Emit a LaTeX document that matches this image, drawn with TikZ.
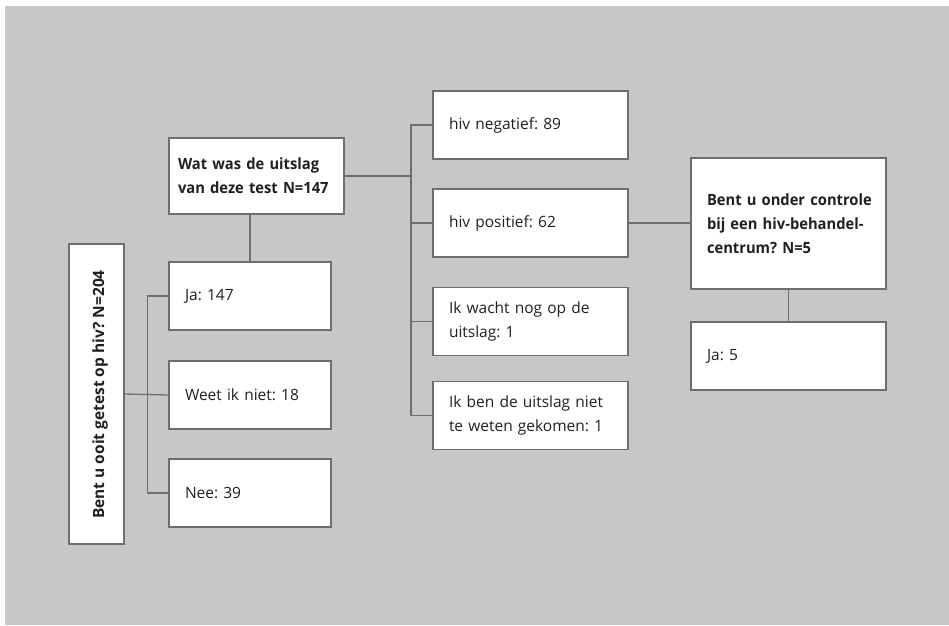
\documentclass[tikz,border=0pt]{standalone}
\usepackage{fontspec}
\setmainfont{Open Sans}
\newfontfamily\narrowfont[FakeStretch=0.95]{Open Sans}
\definecolor{bggray}{HTML}{C6C7C9}
\definecolor{linegray}{HTML}{6D6E71}
\definecolor{txt}{HTML}{231F20}
\begin{document}
\frenchspacing
\begin{tikzpicture}[x=1pt,y=-1pt,
  box/.style={draw=linegray, line width=1.4pt, fill=white, text=txt, align=left,
    inner xsep=16pt, inner ysep=0pt, text width=#1,
    font=\fontsize{15.5}{24}\selectfont},
  box/.default=163pt,
  boldtext/.style={font=\fontsize{15.5}{24}\selectfont\narrowfont\bfseries},
  conn/.style={draw=linegray, line width=1.3pt}]
\useasboundingbox (0,0) rectangle (949,625);
\fill[bggray] (5,6) rectangle (949,625);

% left rotated box
\node[draw=linegray, line width=1.4pt, fill=white, minimum width=55pt, minimum height=300pt, inner sep=0pt] (q1) at (96.5,394) {};
\node[rotate=90, anchor=base, text=txt, inner sep=0pt, font=\fontsize{15.5}{24}\selectfont\bfseries] (q1t) at (104,394.5) {Bent u ooit getest op hiv? N=204};

\node[box=130pt, minimum height=68pt] (ja) at (250,296) {Ja: 147};
\node[box=130pt, minimum height=68pt] (weet) at (250,395) {Weet ik niet: 18};
\node[box=130pt, minimum height=68pt] (nee) at (250,493) {Nee: 39};

\node[box=157pt, inner xsep=9pt, minimum height=76pt, boldtext] (wat) at (256.5,176) {\mbox{Wat was de uitslag}\\\mbox{van deze test N=147}};

\node[box, minimum height=68pt] (neg) at (530.5,125) {hiv negatief: 89};
\node[box, minimum height=68pt] (pos) at (530.5,223) {hiv positief: 62};
\node[box, minimum height=68pt] (wacht) at (530.5,321.5) {\mbox{Ik wacht nog op de}\\uitslag: 1};
\node[box, minimum height=68pt] (ikben) at (530.5,415.5) {\mbox{Ik ben de uitslag niet}\\\mbox{te weten gekomen: 1}};

\node[box, minimum height=131pt, boldtext] (ctrl) at (788.5,223.5) {\mbox{Bent u onder controle}\\\mbox{bij een hiv-behandel-}\\\mbox{centrum? N=5}};
\node[box, minimum height=68pt] (ja5) at (788.5,356) {Ja: 5};

% connectors
\coordinate (busA) at (147.5,296);
\coordinate (busB) at (411,125);
\draw[conn] (ja.west) -- (busA) |- (nee.west);
\draw[conn] (q1.east) -- (weet.west);
\draw[conn] (ja.north) -- (ja.north |- wat.south);
\draw[conn] (neg.west) -- (busB) |- (ikben.west);
\draw[conn] (wat.east) -- (wat.east -| busB);
\draw[conn] (pos.west) -- (pos.west -| busB);
\draw[conn] (wacht.west) -- (wacht.west -| busB);
\draw[conn] (pos.east) -- (ctrl.west |- pos.east);
\draw[conn] (ctrl.south -| ja5.north) -- (ja5.north);
\end{tikzpicture}
\end{document}
